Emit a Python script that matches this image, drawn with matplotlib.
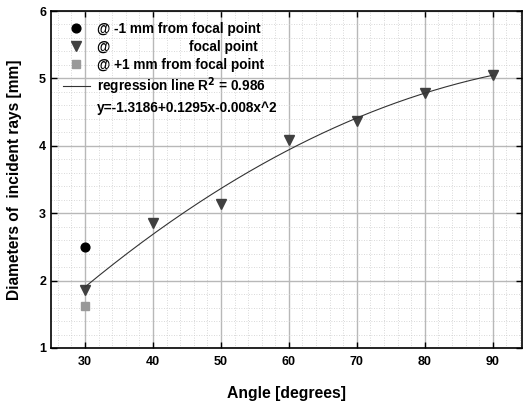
import numpy as np
import matplotlib.pyplot as plt
from matplotlib.ticker import MultipleLocator

plt.rcParams['font.family'] = ['Liberation Sans', 'DejaVu Sans']
plt.rcParams['font.weight'] = 'bold'

angle = [30, 40, 50, 60, 70, 80, 90]
diam_focal = [1.86, 2.85, 3.14, 4.09, 4.37, 4.78, 5.05]
angle_minus = [30]
diam_minus = [2.50]
angle_plus = [30]
diam_plus = [1.62]

coef = np.polyfit(angle, diam_focal, 2)
xfit = np.linspace(30, 90, 200)
yfit = np.polyval(coef, xfit)

fig = plt.figure(figsize=(5.24, 4.03), dpi=100)
ax = fig.add_axes([51 / 524, 1 - 348 / 403, 471 / 524, 337 / 403])

ax.plot(angle_minus, diam_minus, 'o', color='black', ms=6.3, label='@ -1 mm from focal point')
ax.plot(angle, diam_focal, 'v', color='#404040', ms=7,
        label='@                     focal point')
ax.plot(angle_plus, diam_plus, 's', color='#999999', ms=5.8, label='@ +1 mm from focal point')
ax.plot(xfit, yfit, '-', color='#333333', lw=0.8, label='regression line R$^2$ = 0.986')
ax.plot([], [], color='none', label='y=-1.3186+0.1295x-0.008x^2')

ax.set_xlim(25, 94.3)
ax.set_ylim(1, 6)
ax.xaxis.set_major_locator(MultipleLocator(10))
ax.xaxis.set_minor_locator(MultipleLocator(2))
ax.yaxis.set_major_locator(MultipleLocator(1))
ax.yaxis.set_minor_locator(MultipleLocator(0.2))
ax.grid(which='major', color='#b8b8b8', lw=1.0)
ax.grid(which='minor', color='#cccccc', lw=0.6, ls=(0, (1, 2)))
ax.set_axisbelow(True)
ax.tick_params(which='major', direction='in', top=True, right=True, length=4,
               labelsize=9, width=1)
ax.tick_params(axis='x', pad=6)
ax.tick_params(which='minor', length=0)
for lab in ax.get_xticklabels() + ax.get_yticklabels():
    lab.set_fontweight('bold')
for s in ax.spines.values():
    s.set_linewidth(1.2)

ax.set_xlabel('Angle [degrees]', fontsize=11.3, fontweight='bold', labelpad=13)
ax.set_ylabel('Diameters of  incident rays [mm]', fontsize=11.2, fontweight='bold', labelpad=12)

leg = ax.legend(loc='upper left', frameon=False, fontsize=9.8, handlelength=2.0,
                labelspacing=0.27, borderaxespad=0.3, handletextpad=0.5,
                bbox_to_anchor=(0.005, 0.995))
for t in leg.get_texts():
    t.set_fontweight('bold')

fig.savefig('out.png', dpi=100)
